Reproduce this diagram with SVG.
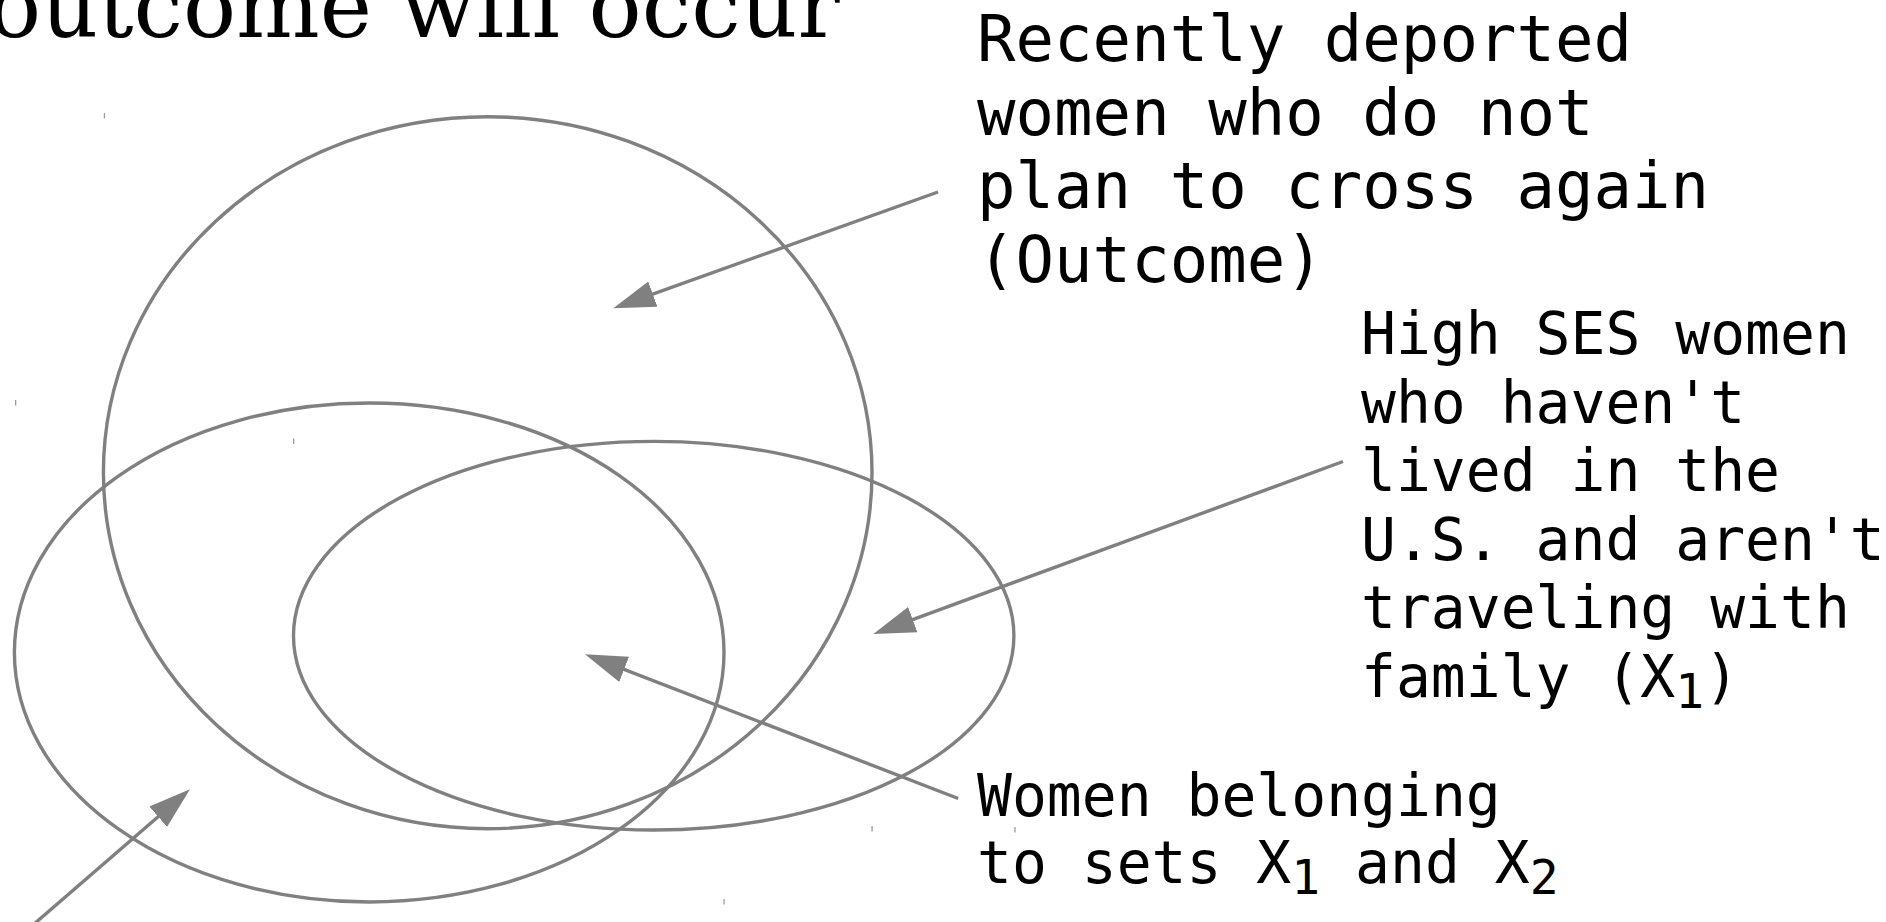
<svg xmlns="http://www.w3.org/2000/svg" width="1886" height="922" viewBox="0 0 1886 922">
  <style>
    .set { fill: none; stroke: #808080; stroke-width: 3.4; }
    .conn { fill: none; stroke: #808080; stroke-width: 3.4; stroke-linecap: butt; marker-end: url(#arrow); }
    .lbl { font-family: "DejaVu Sans Mono", "Liberation Mono", monospace; fill: #000; }
    .title { font-family: "DejaVu Serif", "Liberation Serif", serif; font-size: 88.3px; fill: #000; }
    .tick { fill: #9a9a9a; }
  </style>
  <defs>
    <marker id="arrow" markerUnits="userSpaceOnUse" markerWidth="44" markerHeight="30" viewBox="0 -15 44 30" refX="32" refY="0" orient="auto">
      <path d="M0,-13.5 L42,0 L0,13.5 Z" fill="#808080"/>
    </marker>
  </defs>

  <rect width="1886" height="922" fill="#ffffff"/>

  <g id="title">
    <text class="title" x="-12" y="37">outcome will occur</text>
  </g>

  <g id="set-outcome">
    <ellipse class="set" cx="487.7" cy="472.7" rx="384.3" ry="356"/>
  </g>
  <g id="set-x2">
    <ellipse class="set" cx="369.2" cy="652.5" rx="354.8" ry="249.5"/>
  </g>
  <g id="set-x1">
    <ellipse class="set" cx="653.7" cy="635.7" rx="360.2" ry="194.3"/>
  </g>

  <g id="corner-marks">
    <rect class="tick" x="103.8" y="113" width="1.3" height="5.5"/>
    <rect class="tick" x="871.4" y="826" width="1.3" height="5.5"/>
    <rect class="tick" x="15" y="400" width="1.3" height="5.5"/>
    <rect class="tick" x="723.4" y="899" width="1.3" height="5.5"/>
    <rect class="tick" x="293" y="438.5" width="1.3" height="5.5"/>
    <rect class="tick" x="1014.3" y="827" width="1.3" height="5.5"/>
  </g>

  <g id="label-outcome">
    <text class="lbl" font-size="64" x="977">
      <tspan x="977" y="61">Recently deported</tspan>
      <tspan x="977" y="134.5">women who do not</tspan>
      <tspan x="977" y="208">plan to cross again</tspan>
      <tspan x="977" y="281.5">(Outcome)</tspan>
    </text>
  </g>

  <g id="label-x1">
    <text class="lbl" font-size="58" x="1361">
      <tspan x="1361" y="354">High SES women</tspan>
      <tspan x="1361" y="422.5">who haven't</tspan>
      <tspan x="1361" y="491">lived in the</tspan>
      <tspan x="1361" y="559.5">U.S. and aren't</tspan>
      <tspan x="1361" y="628">traveling with</tspan>
      <tspan x="1361" y="696.5">family (X<tspan font-size="48" dy="11">1</tspan><tspan dy="-11">)</tspan></tspan>
    </text>
  </g>

  <g id="label-x1x2">
    <text class="lbl" font-size="58" x="977">
      <tspan x="977" y="816">Women belonging</tspan>
      <tspan x="977" y="883">to sets X<tspan font-size="48" dy="11">1</tspan><tspan dy="-11"> and X</tspan><tspan font-size="48" dy="11">2</tspan></tspan>
    </text>
  </g>

  <g id="connectors">
    <line class="conn" x1="938" y1="192" x2="622.7" y2="304.9"/>
    <line class="conn" x1="1343" y1="461.5" x2="882.7" y2="630.6"/>
    <line class="conn" x1="958.2" y1="798.5" x2="594.3" y2="657.9"/>
    <line class="conn" x1="26" y1="931" x2="182.4" y2="795.8"/>
  </g>
</svg>
